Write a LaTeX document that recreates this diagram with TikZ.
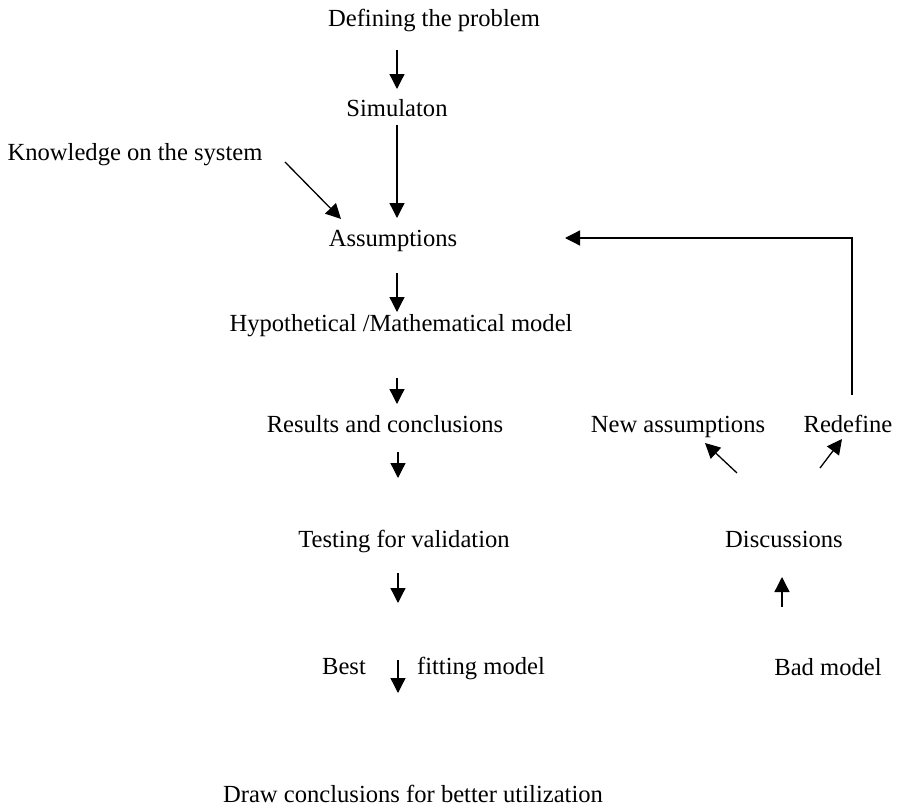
\documentclass[tikz,border=0pt]{standalone}
\usepackage{fontspec}
\setmainfont{Liberation Serif}
\usetikzlibrary{arrows.meta}
\begin{document}
\begin{tikzpicture}[x=1pt,y=-1pt,
  lbl/.style={anchor=base,inner sep=0pt,font=\fontsize{24.6}{28}\selectfont},
  arr/.style={line width=1.3pt,-{Triangle[length=15pt,width=15pt]}},
  ln/.style={line width=1.3pt}]
\useasboundingbox (0,0) rectangle (898,806);
\node[lbl] (def) at (434,26) {Defining the problem};
\node[lbl] (sim) at (397,116) {Simulaton};
\node[lbl] (know) at (135,160) {Knowledge on the system};
\node[lbl] (ass) at (393,246) {Assumptions};
\node[lbl] (hyp) at (401,331) {Hypothetical /Mathematical model};
\node[lbl] (res) at (385,432) {Results and conclusions};
\node[lbl] (newa) at (678,432) {New assumptions};
\node[lbl] (redef) at (848,432) {Redefine};
\node[lbl] (test) at (404,547) {Testing for validation};
\node[lbl] (disc) at (784,547) {Discussions};
\node[lbl] (best) at (344,674) {Best};
\node[lbl] (fit) at (481,674) {fitting model};
\node[lbl] (bad) at (828,675) {Bad model};
\node[lbl] (draw) at (413,802) {Draw conclusions for better utilization};
% arrow end points
\coordinate (a1s) at (397,50);  \coordinate (a1e) at (397,89);
\coordinate (a2s) at (397,125); \coordinate (a2e) at (397,218);
\coordinate (kns) at (285,162); \coordinate (kne) at (341,219);
\coordinate (a3s) at (397,273); \coordinate (a3e) at (397,312);
\coordinate (a4s) at (397,378); \coordinate (a4e) at (397,404);
\coordinate (a5s) at (398,452); \coordinate (a5e) at (398,478);
\coordinate (a6s) at (398,573); \coordinate (a6e) at (398,603);
\coordinate (a7s) at (398,660); \coordinate (a7e) at (398,693);
\coordinate (fbs) at (852,395); \coordinate (fbc) at (852,238); \coordinate (fbe) at (565,238);
\coordinate (nas) at (737,473); \coordinate (nae) at (705,443);
\coordinate (rds) at (820,468); \coordinate (rde) at (842,439);
\coordinate (bms) at (782,607); \coordinate (bme) at (782,577);
\draw[arr] (a1s) -- (a1e);
\draw[arr] (a2s) -- (a2e);
\draw[arr] (kns) -- (kne);
\draw[arr] (a3s) -- (a3e);
\draw[arr] (a4s) -- (a4e);
\draw[arr] (a5s) -- (a5e);
\draw[arr] (a6s) -- (a6e);
\draw[arr] (a7s) -- (a7e);
\draw[arr] (fbs) -- (fbc) -- (fbe);
\draw[arr] (nas) -- (nae);
\draw[arr] (rds) -- (rde);
\draw[arr] (bms) -- (bme);
\end{tikzpicture}
\end{document}
